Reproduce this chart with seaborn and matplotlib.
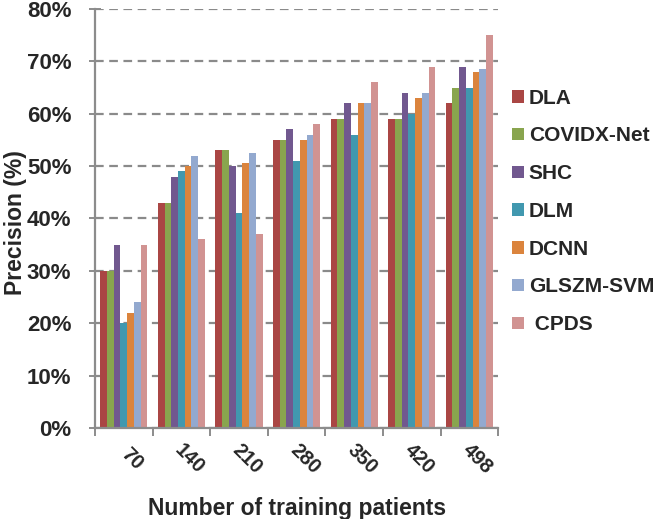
import pandas as pd
import numpy as np
import matplotlib
matplotlib.use("Agg")
import matplotlib.pyplot as plt
import matplotlib.transforms as mtransforms
import seaborn as sns
from matplotlib.ticker import PercentFormatter, FixedLocator

# data
patients = ["70", "140", "210", "280", "350", "420", "498"]
methods = ["DLA", "COVIDX-Net", "SHC", "DLM", "DCNN", "GLSZM-SVM", " CPDS"]

dla = [30, 43, 53, 55, 59, 59, 62]
covidx = [30, 43, 53, 55, 59, 59, 65]
shc = [35, 48, 50, 57, 62, 64, 69]
dlm = [20, 49, 41, 51, 56, 60, 65]
dcnn = [22, 50, 50.5, 55, 62, 63, 68]
glszm = [24, 52, 52.5, 56, 62, 64, 68.5]
cpds = [35, 36, 37, 58, 66, 69, 75]

colors = ["#AA4644", "#89A54E", "#71588F", "#4198AF", "#DB843D", "#93A9CF", "#D19392"]

series = [dla, covidx, shc, dlm, dcnn, glszm, cpds]
rows = []
for m, vals in zip(methods, series):
    for p, v in zip(patients, vals):
        rows.append({"patients": p, "method": m, "precision": v})
df = pd.DataFrame(rows)

sns.set_theme(style="white")
plt.rcParams["font.family"] = ["Liberation Sans", "DejaVu Sans"]

fig = plt.figure(figsize=(6.66, 5.19), dpi=100)
ax = fig.add_axes([0.1426, 0.1753, 0.6054, 0.8074])

sns.barplot(data=df, x="patients", y="precision", hue="method",
            palette=colors, width=0.82, saturation=1, ax=ax,
            edgecolor="none", linewidth=0)

grey = "#8c8c8c"
ax.set_ylim(0, 80)
ax.set_xlim(-0.5, len(patients) - 0.5)
ax.yaxis.set_major_locator(FixedLocator(np.arange(0, 81, 10)))
ax.yaxis.set_major_formatter(PercentFormatter(decimals=0))
ax.set_axisbelow(True)
ax.yaxis.grid(True, linestyle=(0, (3.9, 2.5)), color="#8a8a8a", linewidth=1.6)
ax.xaxis.grid(False)

for side in ["top", "right"]:
    ax.spines[side].set_visible(False)
for side in ["left", "bottom"]:
    ax.spines[side].set_color(grey)
    ax.spines[side].set_linewidth(1.6)

ax.tick_params(axis="y", which="major", direction="inout", length=9, width=1.4,
               color=grey, labelsize=16, pad=12.5, left=True)
for lbl in ax.get_yticklabels():
    lbl.set_fontweight("bold")

# ticks at the group boundaries, labels in the middle
ax.xaxis.set_minor_locator(FixedLocator(np.arange(-0.5, len(patients), 1)))
ax.tick_params(axis="x", which="minor", direction="out", length=6, width=1.4,
               color=grey, bottom=True)
ax.tick_params(axis="x", which="major", length=0, labelsize=14.5, pad=0)
shift = mtransforms.ScaledTranslation(8 / 100, -31 / 100, fig.dpi_scale_trans)
for lbl in ax.get_xticklabels():
    lbl.set_rotation(-45)
    lbl.set_ha("center")
    lbl.set_va("center")
    lbl.set_rotation_mode("anchor")
    lbl.set_fontweight("bold")
    lbl.set_transform(lbl.get_transform() + shift)

ax.set_xlabel("Number of training patients", fontsize=16.5, fontweight="bold",
              va="center")
ax.xaxis.set_label_coords(0.5, -0.192)
ax.set_ylabel("Precision (%)", fontsize=16.5, fontweight="bold", va="center")
ax.yaxis.set_label_coords(-0.198, 0.49)

handles, labels = ax.get_legend_handles_labels()
ax.legend_.remove()
fig.legend(handles, labels, loc="center left", bbox_to_anchor=(0.769, 0.5925),
           frameon=False, prop={"weight": "bold", "size": 15},
           handlelength=0.55, handleheight=0.55, handletextpad=0.25,
           labelspacing=0.9, borderaxespad=0, borderpad=0)

fig.savefig("out.png", dpi=100)
